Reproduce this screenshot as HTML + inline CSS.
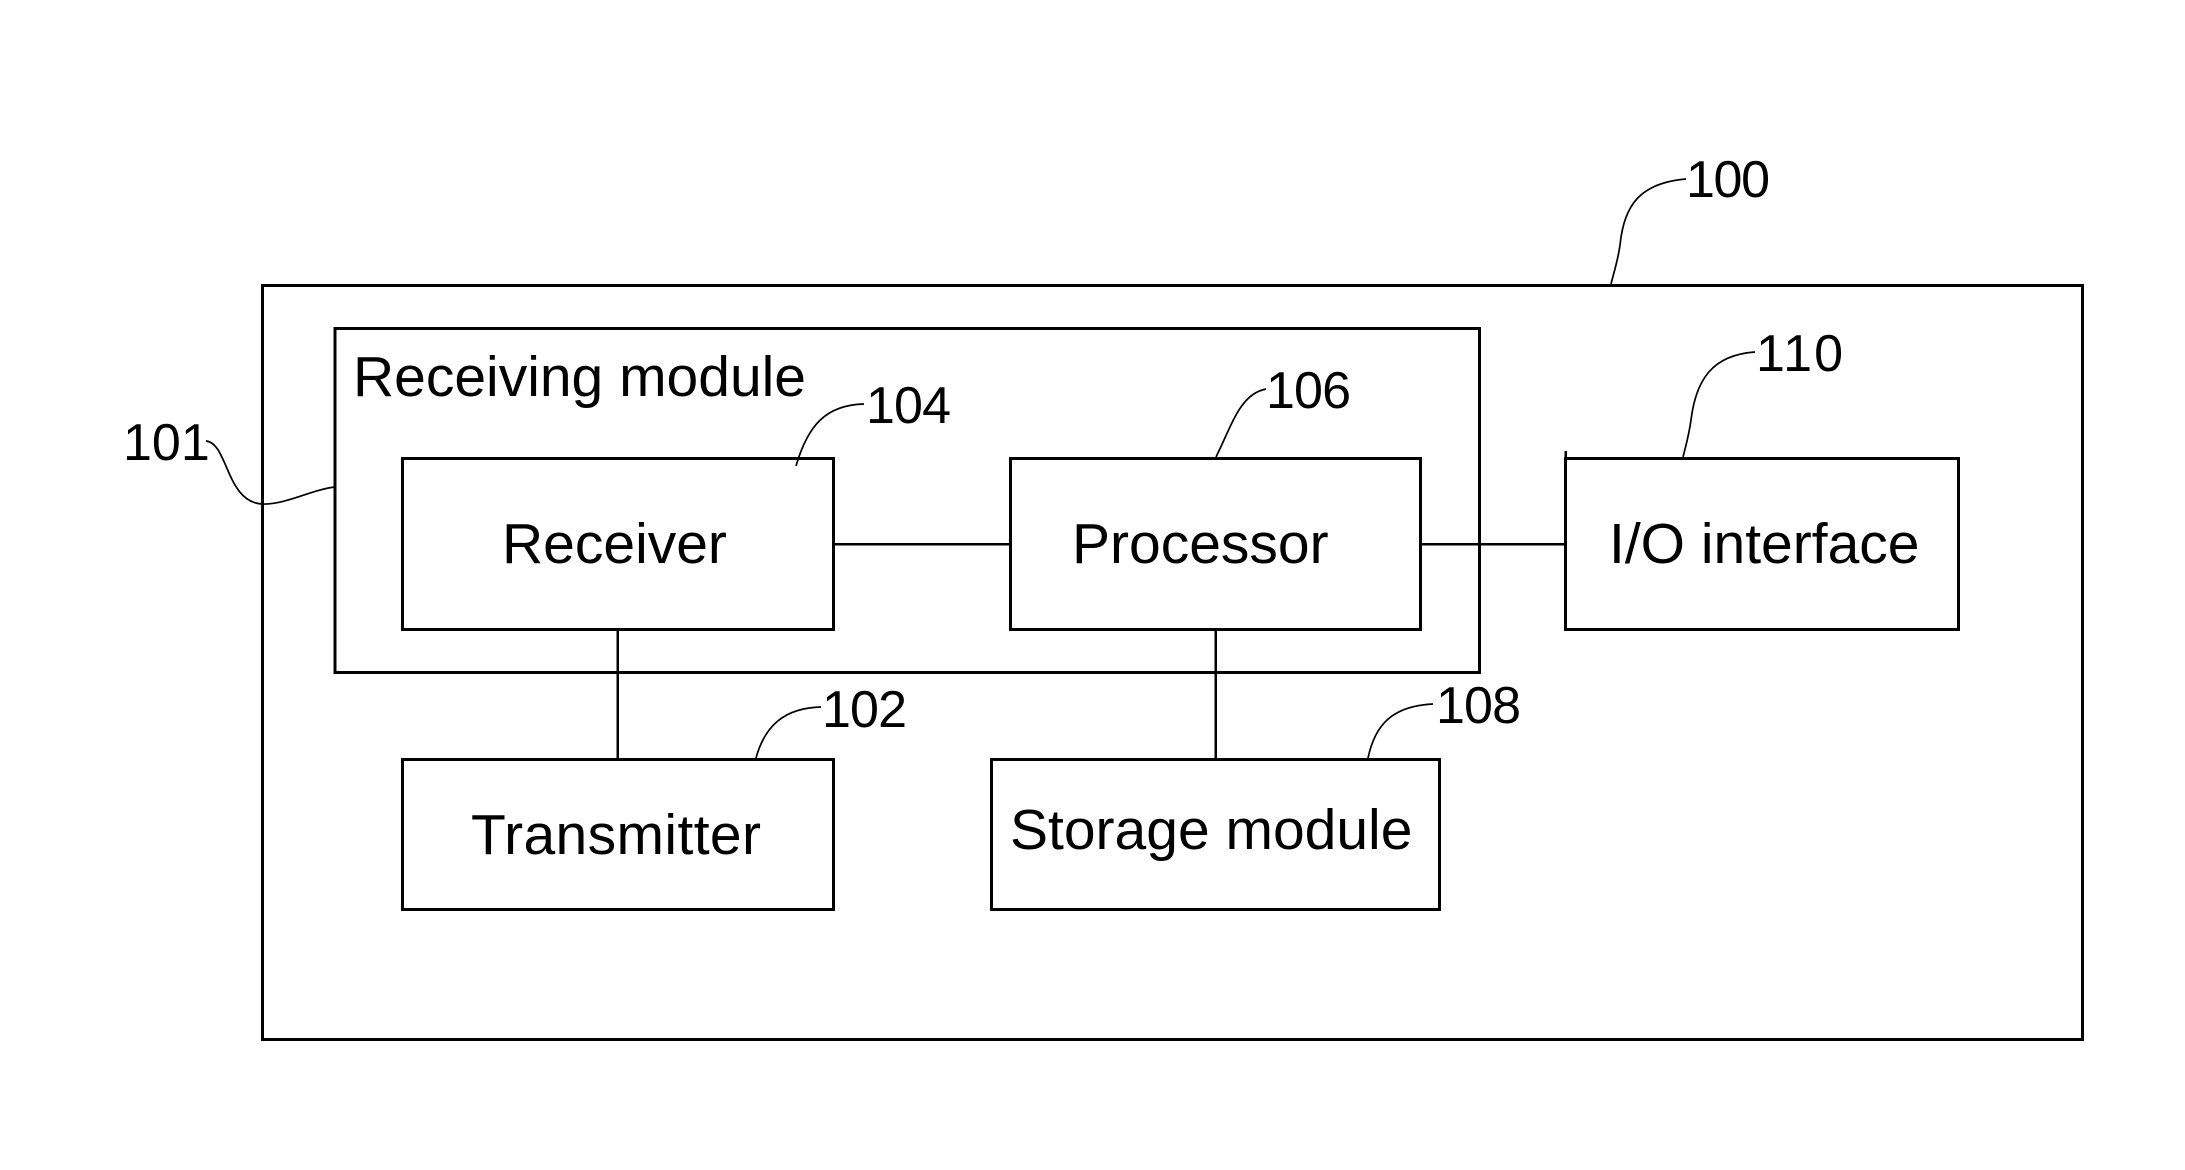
<!DOCTYPE html>
<html>
<head>
<meta charset="utf-8">
<style>
html,body{margin:0;padding:0;background:#fff;width:2185px;height:1170px;overflow:hidden}
svg{display:block}
text{font-family:"Liberation Sans",Arial,sans-serif;fill:#000}
.b{font-size:57px}
.n{font-size:52px}
</style>
</head>
<body>
<svg width="2185" height="1170" viewBox="0 0 2185 1170" xmlns="http://www.w3.org/2000/svg">
<rect width="2185" height="1170" fill="#fff"/>
<g fill="none" stroke="#000" shape-rendering="crispEdges">
  <rect x="262.500" y="285.500" width="1820" height="754" stroke-width="3"/>
  <rect x="335" y="328.500" width="1144.500" height="344" stroke-width="3"/>
  <rect x="402.500" y="458.500" width="431" height="171" stroke-width="3"/>
  <rect x="1010.500" y="458.500" width="410" height="171" stroke-width="3"/>
  <rect x="1565.500" y="458.500" width="393" height="171" stroke-width="3"/>
  <rect x="402.500" y="759.500" width="431" height="150" stroke-width="3"/>
  <rect x="991.500" y="759.500" width="448" height="150" stroke-width="3"/>
  <path d="M834 544H1010M1420 544H1565M617.500 630V759M1215.500 630V759M1565.500 451V459" stroke-width="2.500"/>
</g>
<g fill="none" stroke="#000" stroke-width="1.700">
  <path d="M206 441C228 443 226 502 262 504C285 505 310 490 335 487"/>
  <path d="M864 404C826 405 808 425 796 466"/>
  <path d="M1686 179C1640 183 1624 205 1620 245C1618 260 1614 272 1611 284"/>
  <path d="M1755 352C1712 355 1696 380 1691 420C1689 435 1686 445 1683 457"/>
  <path d="M1266 389C1240 394 1232 425 1216 457"/>
  <path d="M821 707C785 708 765 725 756 758"/>
  <path d="M1433 704C1392 706 1375 725 1368 758"/>
</g>
<text class="b" x="353" y="396" textLength="453">Receiving module</text>
<text class="b" x="502" y="563">Receiver</text>
<text class="b" x="1072" y="563">Processor</text>
<text class="b" x="1609" y="563">I/O interface</text>
<text class="b" x="471" y="854" textLength="290">Transmitter</text>
<text class="b" x="1010" y="849">Storage module</text>
<text class="n" x="123" y="460">101</text>
<text class="n" x="1686" y="197" textLength="84">100</text>
<text class="n" x="1756" y="371" textLength="87">110</text>
<text class="n" x="1266" y="408" textLength="85">106</text>
<text class="n" x="866" y="423" textLength="85">104</text>
<text class="n" x="822" y="727" textLength="85">102</text>
<text class="n" x="1436" y="723" textLength="85">108</text>
</svg>
</body>
</html>
